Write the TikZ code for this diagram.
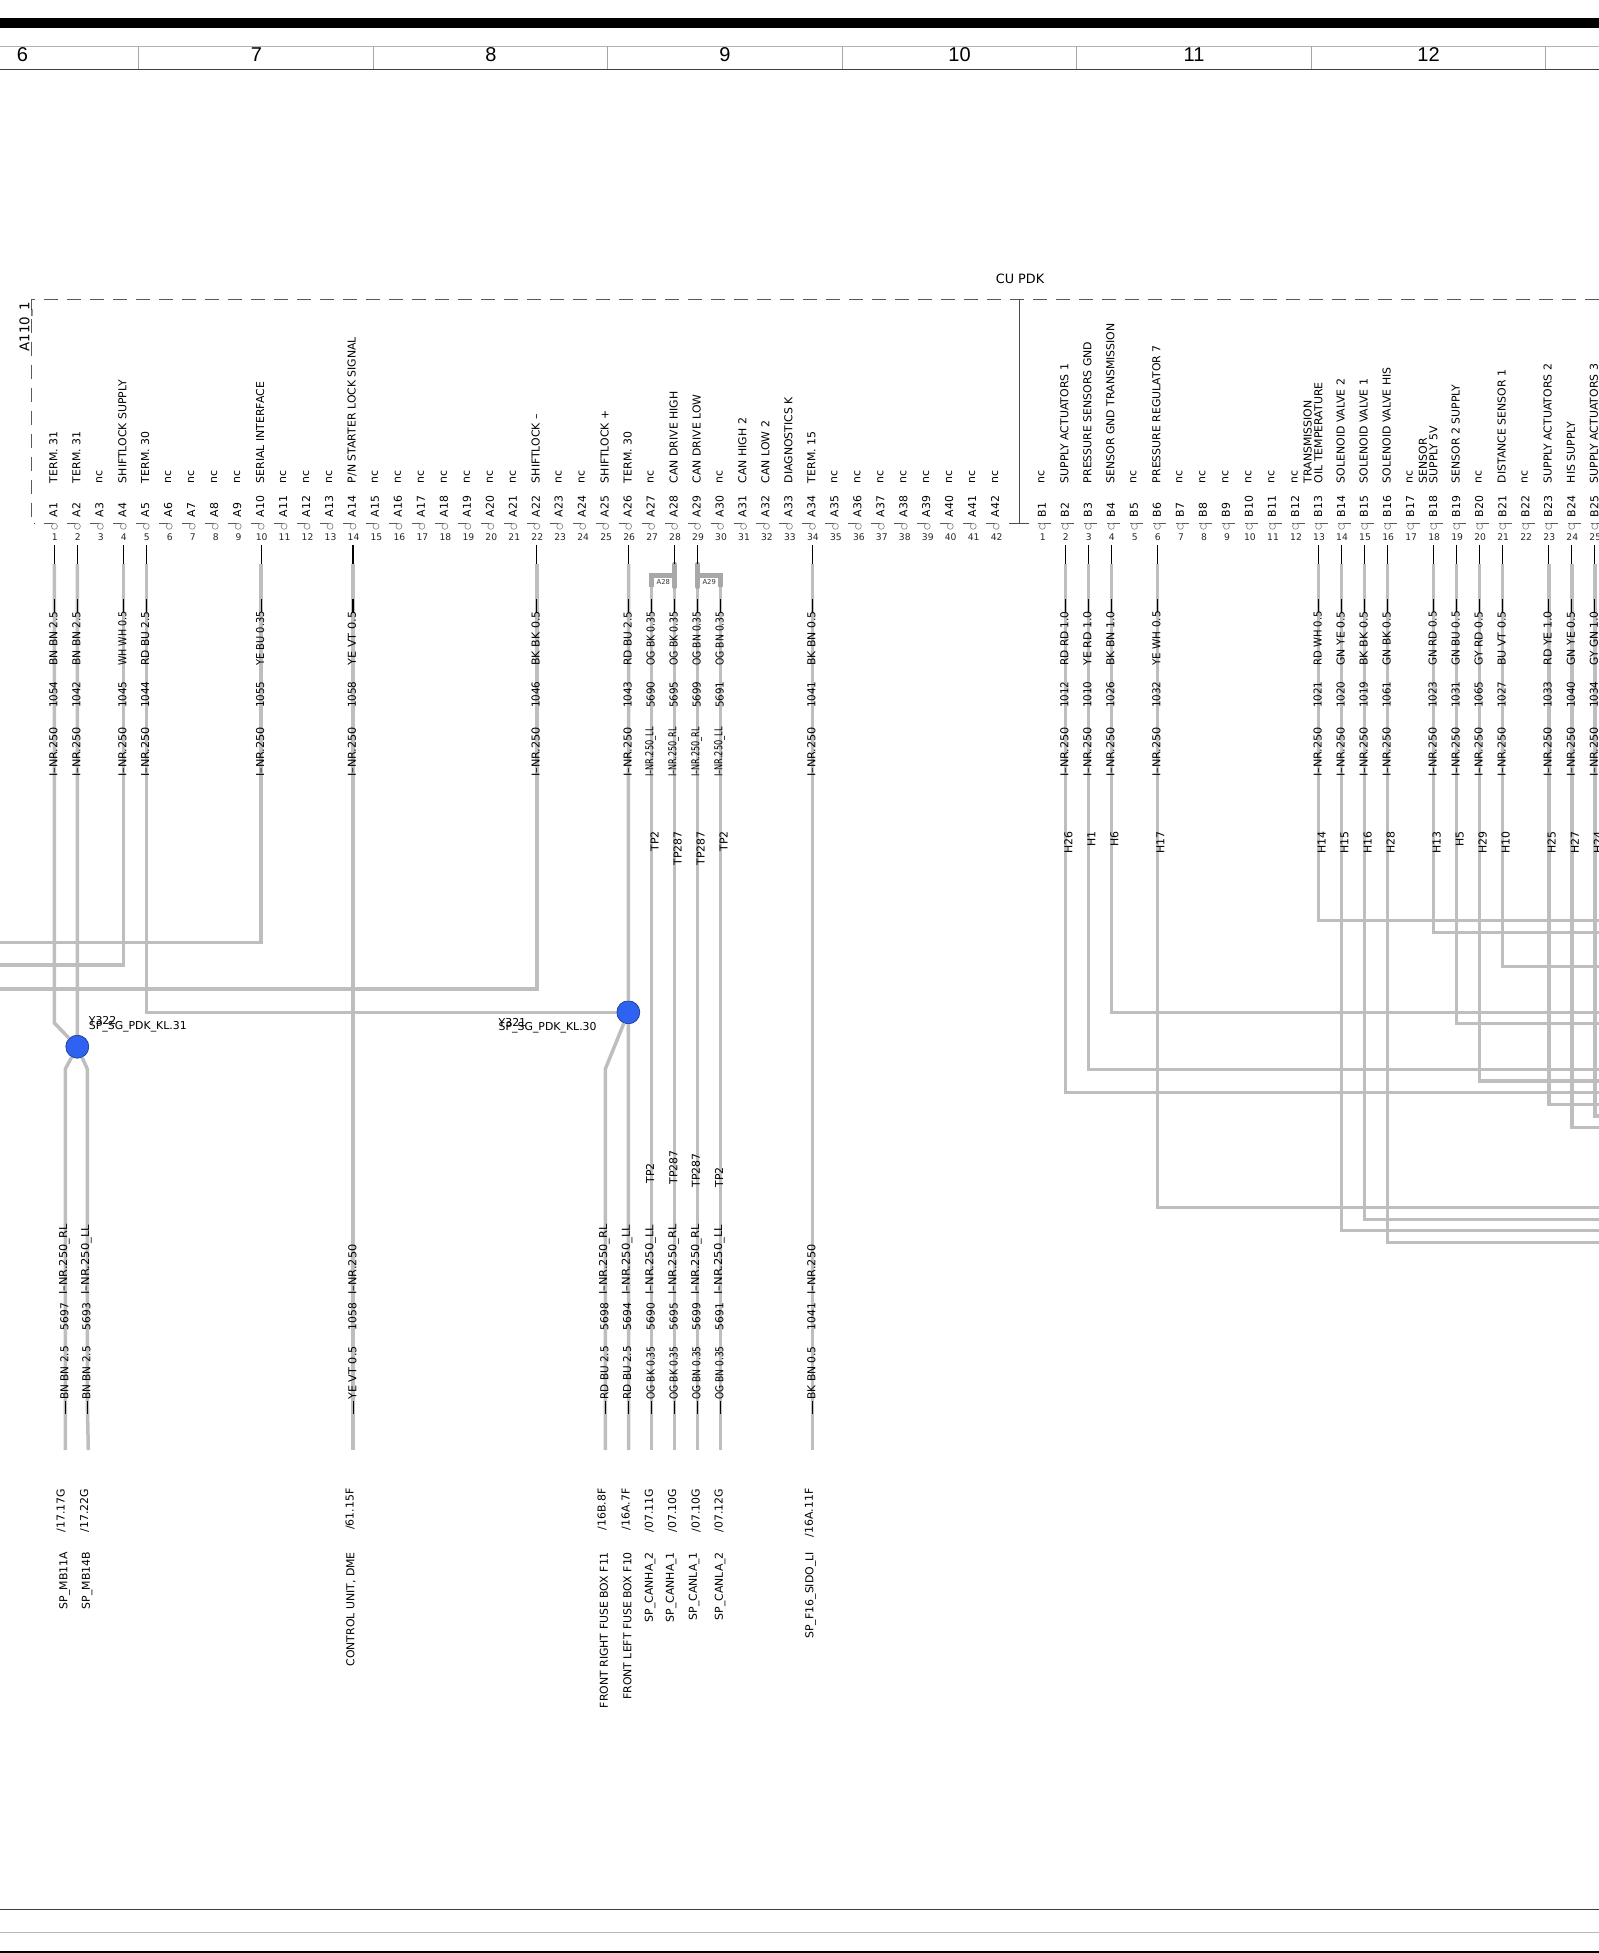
\documentclass[tikz,border=0pt]{standalone}
\usepackage{fontspec}
\usepackage{graphicx}
\setmainfont{DejaVu Sans}
\newfontfamily\headfont{Liberation Sans}
\definecolor{wiregray}{HTML}{BEBEBE}
\definecolor{bridgegray}{HTML}{A8A8A8}
\definecolor{junc}{HTML}{3062F2}
\newcommand\fitw[2]{\resizebox{#1}{\height}{#2}}
\newcommand\lfont{\fontsize{5.45}{5.3}\selectfont}
\newcommand\numfont{\fontsize{4.6}{5}\selectfont}
\tikzset{
  wire/.style={draw=wiregray,line width=1.75pt,line join=miter},
  blackseg/.style={draw=black,line width=0.6pt},
  thick bridge/.style={draw=bridgegray,line width=2.2pt},
  vlab/.style={rotate=90,anchor=west,inner sep=0pt,font=\lfont,text=black},
  vlabtop/.style={rotate=90,anchor=east,inner sep=0pt,font=\lfont,text=black},
  pinnum/.style={inner sep=0pt,font=\numfont,text=black!85},
  pincirc/.style={circle,draw=black!45,line width=0.35pt,inner sep=0pt,minimum size=3pt,fill=white},
  pinline/.style={draw=black!65,line width=0.4pt},
  frame/.style={draw=black!65,line width=0.45pt},
  jct/.style={circle,fill=junc,draw=junc!60!black,line width=0.35pt,minimum size=11.5pt,inner sep=0pt},
  hlab/.style={inner sep=0pt,font=\lfont,text=black},
  bridgelab/.style={inner sep=0pt,font=\fontsize{3.4}{4}\selectfont,text=black!80},
  headnum/.style={inner sep=0pt,font=\headfont\fontsize{10}{11}\selectfont,text=black},
  tick/.style={draw=black!35,line width=0.3pt}
}
\begin{document}
\begin{tikzpicture}[x=0.5pt,y=-0.5pt]
\useasboundingbox (0,0) rectangle (1599,1953);
\clip (0,0) rectangle (1599,1953);
% ---- header and footer
\fill[black] (0,18.5) rectangle (1599,28);
\draw[draw=black!30,line width=0.45pt] (0,46.3) -- (1599,46.3);
\draw[draw=black!75,line width=0.5pt] (0,69.3) -- (1599,69.3);
\foreach \tx in {138.3,372.8,607.3,841.8,1076.3,1310.8,1545.3}
  \draw[tick] (\tx,46.3) -- (\tx,69.3);
\foreach \hx/\hn in {22.5/6,256.5/7,491/8,725/9,959.5/10,1194/11,1428.5/12}
  \node[headnum] (head\hn) at (\hx,54.3) {\hn};
\draw[draw=black!75,line width=0.6pt] (0,1909.3) -- (1599,1909.3);
\draw[draw=black!28,line width=0.45pt] (0,1932.3) -- (1599,1932.3);
\fill[black] (0,1950.7) rectangle (1599,1953);
% ---- frame
\draw[frame,dash pattern=on 7pt off 4.5pt] (1599,299.3) -- (31.3,299.3) -- (31.3,523.3) -- (35,523.3);
\draw[draw=black!70,line width=0.35pt] (1019.3,299.3) -- (1019.3,523.3);
\draw[draw=black!70,line width=0.35pt] (1009,523.3) -- (1029,523.3);
\node[inner sep=0pt,font=\fontsize{6.7}{8}\selectfont,rotate=90,anchor=west] (a110) at (26,352) {A110\_1};
\node[inner sep=0pt,font=\fontsize{6.4}{7}\selectfont] (cupdk) at (1020,279) {CU PDK};
% ---- named wire coordinates for all pins
\foreach \p in {1,...,42}{
  \pgfmathsetmacro\xx{54.4+22.97*(\p-1)}
  \coordinate (tA\p) at (\xx,545);
  \coordinate (gA\p) at (\xx,564);
  \coordinate (bA\p) at (\xx,1450);
  \draw[pinline] (\xx-10,523.3) -- (\xx+0.5,523.3);
  \node[pincirc] (cA\p) at (\xx,526.3) {};
  \node[vlab] (idA\p) at (\xx-1,517.7) {A\p};
  \node[pinnum] (nA\p) at (\xx+0.5,537) {\p};
}
\foreach \p in {1,...,25}{
  \pgfmathsetmacro\xx{1042.3+23.02*(\p-1)}
  \coordinate (tB\p) at (\xx,545);
  \coordinate (gB\p) at (\xx,564);
  \draw[pinline] (\xx-4,523.3) -- (\xx+9,523.3);
  \node[pincirc] (cB\p) at (\xx,526.3) {};
  \node[vlab] (idB\p) at (\xx-0.5,517.7) {B\p};
  \node[pinnum] (nB\p) at (\xx+0.5,537) {\p};
}
% ---- signal names
\foreach \p/\t in {1/TERM. 31,2/TERM. 31,3/nc,4/SHIFTLOCK SUPPLY,5/TERM. 30,6/nc,7/nc,8/nc,9/nc,10/SERIAL INTERFACE,
  11/nc,12/nc,13/nc,14/P{/}N STARTER LOCK SIGNAL,15/nc,16/nc,17/nc,18/nc,19/nc,20/nc,21/nc,22/SHIFTLOCK –,23/nc,24/nc,
  25/SHIFTLOCK +,26/TERM. 30,27/nc,28/CAN DRIVE HIGH,29/CAN DRIVE LOW,30/nc,31/CAN HIGH 2,32/CAN LOW 2,33/DIAGNOSTICS K,
  34/TERM. 15,35/nc,36/nc,37/nc,38/nc,39/nc,40/nc,41/nc,42/nc}{
  \pgfmathsetmacro\xx{54.4+22.97*(\p-1)}
  \node[vlab] (sigA\p) at (\xx-1,483.5) {\t};
}
\foreach \p/\t in {1/nc,2/SUPPLY ACTUATORS 1,3/PRESSURE SENSORS GND,4/SENSOR GND TRANSMISSION,5/nc,6/PRESSURE REGULATOR 7,
  7/nc,8/nc,9/nc,10/nc,11/nc,12/nc,14/SOLENOID VALVE 2,15/SOLENOID VALVE 1,16/SOLENOID VALVE HIS,17/nc,
  19/SENSOR 2 SUPPLY,20/nc,21/DISTANCE SENSOR 1,22/nc,23/SUPPLY ACTUATORS 2,24/HIS SUPPLY,25/SUPPLY ACTUATORS 3}{
  \pgfmathsetmacro\xx{1042.3+23.02*(\p-1)}
  \node[vlab] (sigB\p) at (\xx-1,483.5) {\t};
}
\node[vlab,align=left] (sigB13) at (1313,483.5) {TRANSMISSION\\OIL TEMPERATURE};
\node[vlab,align=left] (sigB18) at (1428.2,483.5) {SENSOR\\SUPPLY 5V};
% ---- junctions
\node[jct] (Y322) at (77.3,1046.7) {};
\node[jct] (Y321) at (628.3,1012.3) {};
\node[hlab,anchor=west] (Y322a) at (88.5,1021) {Y322};
\node[hlab,anchor=west] (Y322b) at (88.5,1026.5) {SP\_SG\_PDK\_KL.31};
\node[hlab,anchor=west] (Y321a) at (498.3,1023) {Y321};
\node[hlab,anchor=west] (Y321b) at (498.3,1028) {SP\_SG\_PDK\_KL.30};
% ---- free ends
\coordinate (eA4) at (0,965);
\coordinate (eA10) at (0,942.7);
\coordinate (eA22) at (0,988.8);
\coordinate (kA1) at (54.4,1023);
\coordinate (kL) at (65.3,1069);
\coordinate (kLe) at (65.3,1450);
\coordinate (kR) at (87.3,1069);
\coordinate (kRm) at (87.3,1400);
\coordinate (kRe) at (88.3,1450);
\coordinate (mL) at (605.3,1069);
\coordinate (mLe) at (605.3,1450);
% ---- gray wires, left connector
\draw[wire] (gA1) -- (kA1) -- (Y322);
\draw[wire] (gA2) -- (Y322);
\draw[wire] (Y322) -- (kL) -- (kLe);
\draw[wire] (Y322) -- (kR) -- (kRm) -- (kRe);
\draw[wire] (gA4) |- (eA4);
\draw[wire] (gA5) |- (Y321);
\draw[wire] (gA10) |- (eA10);
\draw[wire] (gA14) -- (bA14);
\draw[wire] (gA22) |- (eA22);
\draw[wire] (gA26) -- (Y321);
\draw[wire] (Y321) -- (bA26);
\draw[wire] (Y321) -- (mL) -- (mLe);
\foreach \p in {27,28,29,30}{
  \pgfmathsetmacro\xx{54.4+22.97*(\p-1)}
  \draw[wire] (\xx,587) -- (bA\p);
}
\draw[wire] (gA34) -- (bA34);
% ---- gray wires, right connector
\foreach \p/\yy in {13/920.3,18/932.3,21/966.7,4/1012.3,19/1023.3,3/1069.7,20/1081,2/1092.7,23/1104.7,25/1116,24/1127.3,6/1207.3,15/1219.3,14/1230.7,16/1242.7}{
  \coordinate (eB\p) at (1605,\yy);
  \draw[wire] (gB\p) |- (eB\p);
}
% ---- bridges at A28, A29
\draw[thick bridge,line cap=round] (gA28) -- (tA28 |- 0,587);
\draw[thick bridge,line cap=round] (gA29) -- (tA29 |- 0,587);
\draw[thick bridge] (tA27 |- 0,587) -- (tA27 |- 0,575.3) -- (tA28 |- 0,575.3);
\draw[thick bridge] (tA30 |- 0,587) -- (tA30 |- 0,575.3) -- (tA29 |- 0,575.3);
\node[bridgelab] (brA28) at (663.3,581.7) {A28};
\node[bridgelab] (brA29) at (709.2,581.7) {A29};
% ---- black stubs
\foreach \p in {1,2,4,5,10,14,22,26,28,29,34}
  \draw[blackseg] (tA\p) -- (gA\p);
\foreach \p in {2,3,4,6,13,14,15,16,18,19,20,21,23,24,25}
  \draw[blackseg] (tB\p) -- (gB\p);
% ---- wire labels, upper, connector A
\foreach \p/\nu/\co/\nr in {1/1054/BN BN 2.5/I–NR.250,2/1042/BN BN 2.5/I–NR.250,4/1045/WH WH 0.5/I–NR.250,5/1044/RD BU 2.5/I–NR.250,
  10/1055/YE BU 0.35/I–NR.250,14/1058/YE VT 0.5/I–NR.250,22/1046/BK BK 0.5/I–NR.250,26/1043/RD BU 2.5/I–NR.250,
  27/5690/OG BK 0.35/I–NR.250\_LL,28/5695/OG BK 0.35/I–NR.250\_RL,29/5699/OG BN 0.35/I–NR.250\_RL,30/5691/OG BN 0.35/I–NR.250\_LL,
  34/1041/BK BN 0.5/I–NR.250}{
  \pgfmathsetmacro\xx{54.4+22.97*(\p-1)}
  \draw[blackseg] (\xx,599) -- (\xx,612);
  \node[vlab] (coA\p) at (\xx-1,666) {\fitw{27.15pt}{\co}};
  \node[vlab] (nuA\p) at (\xx-1,708.3) {\fitw{13.2pt}{\nu}};
  \node[vlab] (nrA\p) at (\xx-1,777.3) {\fitw{25pt}{\nr}};
}
% ---- wire labels, upper, connector B
\foreach \p/\nu/\co/\hh in {2/1012/RD RD 1.0/H26,3/1010/YE RD 1.0/H1,4/1026/BK BN 1.0/H6,6/1032/YE WH 0.5/H17,13/1021/RD WH 0.5/H14,
  14/1020/GN YE 0.5/H15,15/1019/BK BK 0.5/H16,16/1061/GN BK 0.5/H28,18/1023/GN RD 0.5/H13,19/1031/GN BU 0.5/H5,20/1065/GY RD 0.5/H29,
  21/1027/BU VT 0.5/H10,23/1033/RD YE 1.0/H25,24/1040/GN YE 0.5/H27,25/1034/GY GN 1.0/H24}{
  \pgfmathsetmacro\xx{1042.3+23.02*(\p-1)}
  \draw[blackseg] (\xx,599) -- (\xx,612);
  \node[vlab] (coB\p) at (\xx-1,666) {\fitw{27.15pt}{\co}};
  \node[vlab] (nuB\p) at (\xx-1,708.3) {\fitw{13.2pt}{\nu}};
  \node[vlab] (nrB\p) at (\xx-1,777.3) {\fitw{25pt}{I–NR.250}};
  \node[vlabtop] (hB\p) at (\xx+3,831) {\hh};
}
% ---- test points
\foreach \p/\tp in {27/TP2,28/TP287,29/TP287,30/TP2}{
  \pgfmathsetmacro\xx{54.4+22.97*(\p-1)}
  \node[vlabtop] (tpA\p) at (\xx+3,831) {\tp};
}
\node[vlab] (tpb1) at (650,1184) {TP2};
\node[vlab] (tpb2) at (673.3,1185) {TP287};
\node[vlab] (tpb3) at (696,1188) {TP287};
\node[vlab] (tpb4) at (719,1188) {TP2};
% ---- wire labels, lower
\foreach \i/\xx/\nu/\co/\nr/\lw in {1/65.3/5697/BN BN 2.5/I–NR.250\_RL/35pt,2/87.3/5693/BN BN 2.5/I–NR.250\_LL/35pt,3/353.3/1058/YE VT 0.5/I–NR.250/25pt,
  4/605.3/5698/RD BU 2.5/I–NR.250\_RL/35pt,5/628.1/5694/RD BU 2.5/I–NR.250\_LL/35pt,6/651.6/5690/OG BK 0.35/I–NR.250\_LL/35pt,
  7/674.6/5695/OG BK 0.35/I–NR.250\_RL/35pt,8/697.4/5699/OG BN 0.35/I–NR.250\_RL/35pt,9/720.4/5691/OG BN 0.35/I–NR.250\_LL/35pt,10/812.4/1041/BK BN 0.5/I–NR.250/25pt}{
  \draw[blackseg] (\xx,1401) -- (\xx,1414);
  \node[vlab] (col\i) at (\xx-1,1400) {\fitw{26.7pt}{\co}};
  \node[vlab] (nul\i) at (\xx-1,1330.7) {\fitw{13.6pt}{\nu}};
  \node[vlab] (nrl\i) at (\xx-1,1295) {\fitw{\lw}{\nr}};
}
% ---- references
\foreach \i/\xx/\tt in {1/61/{/}17.17G,2/84.7/{/}17.22G,3/350/{/}61.15F,4/602/{/}16B.8F,5/626/{/}16A.7F,6/649.3/{/}07.11G,7/672.7/{/}07.10G,8/696/{/}07.10G,9/719/{/}07.12G,10/809.3/{/}16A.11F}
  \node[vlabtop] (ref\i) at (\xx,1488.3) {\tt};
\foreach \i/\xx/\tt in {1/64.7/SP\_MB11A,2/87/SP\_MB14B,3/351/{CONTROL UNIT, DME},4/604/FRONT RIGHT FUSE BOX F11,5/627.3/FRONT LEFT FUSE BOX F10,6/650/SP\_CANHA\_2,7/671/SP\_CANHA\_1,8/694/SP\_CANLA\_1,9/720/SP\_CANLA\_2,10/810.7/SP\_F16\_SIDO\_LI}
  \node[vlabtop] (dst\i) at (\xx,1551.7) {\tt};
\end{tikzpicture}
\end{document}
